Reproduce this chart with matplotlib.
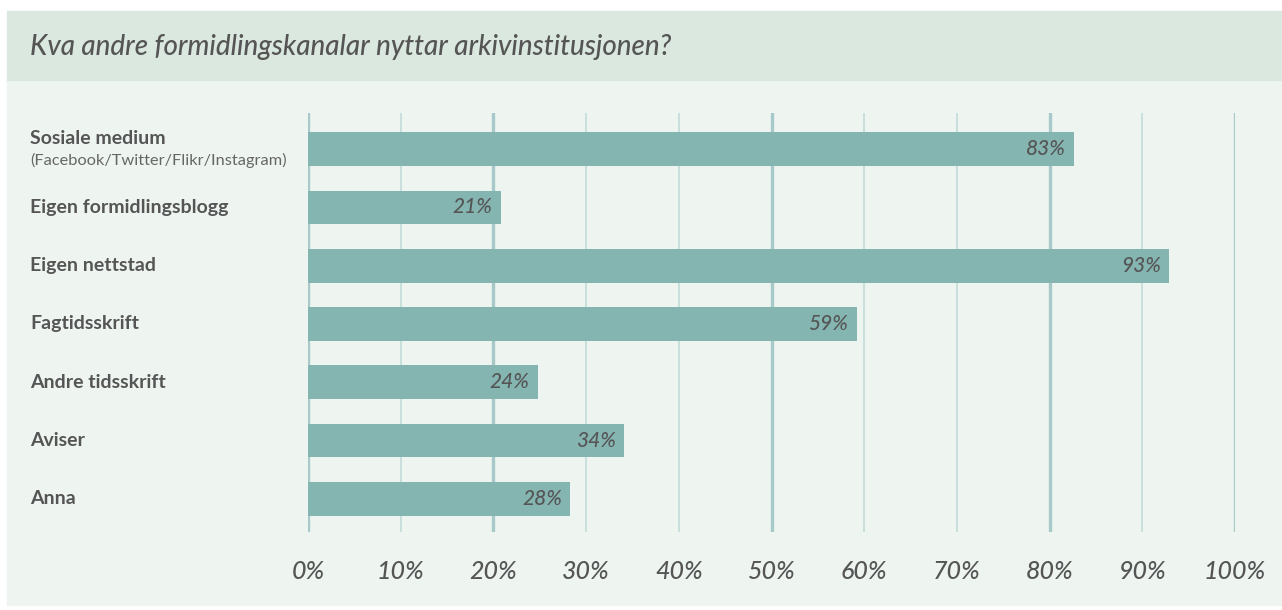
import matplotlib
matplotlib.use("Agg")
import matplotlib.pyplot as plt
import matplotlib.transforms as mtransforms
from matplotlib.patches import Rectangle

plt.rcParams['font.family'] = ['Lato', 'DejaVu Sans']

# data
tittel = "Kva andre formidlingskanalar nyttar arkivinstitusjonen?"
kanalar = ["Sosiale medium", "Eigen formidlingsblogg", "Eigen nettstad",
           "Fagtidsskrift", "Andre tidsskrift", "Aviser", "Anna"]
undertekst = {"Sosiale medium": "(Facebook/Twitter/Flikr/Instagram)"}
# stolpelengd lest av biletet, etikettane slik dei står
stolpar = [82.6, 20.8, 92.9, 59.2, 24.8, 34.1, 28.3]
etikettar = ["83%", "21%", "93%", "59%", "24%", "34%", "28%"]
ticks = [0, 10, 20, 30, 40, 50, 60, 70, 80, 90, 100]
tick_tekst = ["0%", "10%", "20%", "30%", "40%", "50%", "60%", "70%", "80%", "90%", "100%"]
tykke_linjer = [0, 20, 50, 80, 100]

tekstfarge = "#555555"
stolpefarge = "#84b5b1"

fig = plt.figure(figsize=(12.82, 6.10), dpi=100)
fig.patch.set_facecolor("white")

# bakgrunn og tittelband
W, H = 1282, 610
fig.patches.append(Rectangle((7 / W, 1 - 605 / H), 1 - 7 / W, (605 - 80) / H,
                             transform=fig.transFigure, color="#eef5f1", zorder=-2))
fig.patches.append(Rectangle((7 / W, 1 - 80 / H), 1 - 7 / W, (80 - 11) / H,
                             transform=fig.transFigure, color="#dae8df", zorder=-2))
fig.text(30 / W, 1 - 47 / H, tittel, fontsize=20, style="italic",
         fontweight="medium", color=tekstfarge, va="center", ha="left")

ax = fig.add_axes([308 / W, 1 - 532 / H, (1235 - 308) / W, (532 - 113) / H])
ax.set_facecolor("none")
ax.set_zorder(1)

for t in ticks:
    if t in tykke_linjer:
        ax.axvline(t, color="#a8c9ca", lw=2.4, zorder=1)
    else:
        ax.axvline(t, color="#c4dddc", lw=1.3, zorder=1)

y = list(range(len(kanalar)))
ax.barh(y, stolpar, height=0.58, color=stolpefarge, zorder=2)

for i, (v, lab) in enumerate(zip(stolpar, etikettar)):
    ax.text(v - 0.9, i, lab, ha="right", va="center", fontsize=15,
            style="italic", fontweight="medium", color=tekstfarge, zorder=3)

ax.set_xlim(0, 100)
ax.set_ylim(6.57, -0.62)
ax.set_xticks(ticks)
ax.set_xticklabels(tick_tekst, fontsize=18, style="italic",
                   fontweight="medium", color=tekstfarge)
ax.tick_params(axis="x", length=0, pad=20)
ax.set_yticks([])
for s in ax.spines.values():
    s.set_visible(False)

trans = mtransforms.blended_transform_factory(fig.transFigure, ax.transData)
for i, k in enumerate(kanalar):
    if k in undertekst:
        ax.text(30 / W, i - 0.18, k, transform=trans, ha="left", va="center",
                fontsize=14, fontweight="bold", color=tekstfarge)
        ax.text(30 / W, i + 0.2, undertekst[k], transform=trans, ha="left",
                va="center", fontsize=11.8, color="#666666")
    else:
        ax.text(30 / W, i, k, transform=trans, ha="left", va="center",
                fontsize=14, fontweight="bold", color=tekstfarge)

fig.savefig("out.png", dpi=100, facecolor=fig.get_facecolor())
